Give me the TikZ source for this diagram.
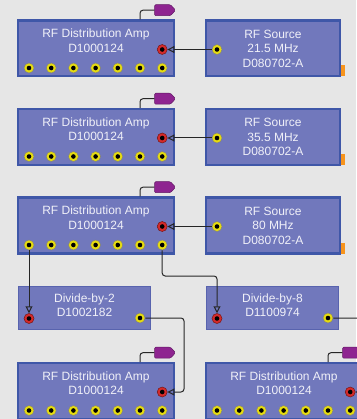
\documentclass[tikz,border=0pt]{standalone}
\usepackage{fontspec}
\setmainfont{Liberation Sans}
\usetikzlibrary{arrows.meta, positioning, shapes.symbols}
\definecolor{bg}{HTML}{E6E6E6}
\definecolor{boxfill}{HTML}{7178BC}
\definecolor{boxedge}{HTML}{3F57A8}
\definecolor{divedge}{HTML}{5863AE}
\definecolor{txt}{HTML}{F0F0F8}
\definecolor{jy}{HTML}{E6DC10}
\definecolor{jr}{HTML}{D42A2A}
\definecolor{tagc}{HTML}{8E2490}
\definecolor{port}{HTML}{F7941D}
\tikzset{
  ampbox/.style={draw=boxedge, fill=boxfill, line width=2.4pt, minimum width=155.6pt, minimum height=55.6pt, inner sep=0pt},
  divbox/.style={draw=divedge, fill=boxfill, line width=1pt, minimum width=132pt, minimum height=43pt, inner sep=0pt},
  tx/.style={text=txt, font=\fontsize{12}{14.5}\selectfont, align=center, inner sep=0pt},
  jack/.style={circle, inner sep=0pt, minimum size=10pt, fill=jy, draw=black!50, line width=0.5pt,
    path picture={\fill[black] (path picture bounding box.center) circle (2.3pt);}},
  rjack/.style={jack, fill=jr, draw=jr!55!black},
  tag/.style={signal, signal to=east, signal pointer angle=95, fill=tagc, draw=tagc!70!black, line width=0.5pt,
    minimum width=21pt, minimum height=11pt, inner sep=0pt, rounded corners=1.2pt},
  portbox/.style={fill=port, minimum width=4pt, minimum height=11pt, inner sep=0pt},
  w/.style={draw=black!85, line width=1pt, rounded corners=3pt},
  a/.style={w, -{Triangle[open, length=7pt, width=7pt]}},
}
% amplifier: name, left, top
\newcommand{\distamp}[3]{%
  \node[ampbox] (#1) at (#2+79, #3+29) {};
  \node[tx] (#1t) at (#2+79, #3+21) {RF Distribution Amp\\D1000124};
  \foreach \i in {1,...,7}
    \node[jack] (#1j\i) at (#2+12+22.2*\i-22.2, #3+48.5) {};
  \node[rjack] (#1r) at (#2+145.2, #3+30) {};
  \node[tag] (#1g) at (#2+145.5, #3-9.3) {};
  \draw[w] (#1j6 |- #1.north) |- (#1g.west);
}
% source: name, top, frequency
\newcommand{\rfsource}[3]{%
  \node[ampbox, tx, minimum width=133.6pt] (#1) at (273, #2+29) {RF Source\\#3 MHz\\D080702-A};
  \node[jack] (#1j) at (217, #2+30) {};
  \node[portbox] (#1p) at (343, #2+51.5) {};
}

\begin{document}
\begin{tikzpicture}[x=1pt, y=-1pt]
\useasboundingbox (0,0) rectangle (356,419);
\fill[bg] (0,0) rectangle (356,419);

% sources and first amplifiers
\distamp{a1}{17}{19.5}
\rfsource{s1}{19.5}{21.5}
\distamp{a2}{17}{108}
\rfsource{s2}{108}{35.5}
\distamp{a3}{17}{196.5}
\rfsource{s3}{196.5}{80}

% dividers
\node[divbox] (d2) at (84.5, 308) {};
\node[tx] (d2t) at (84.5, 305) {Divide-by-2\\D1002182};
\node[rjack] (d2r) at (29, 318.5) {};
\node[jack] (d2o) at (140, 318) {};
\node[divbox] (d8) at (272.5, 308) {};
\node[tx] (d8t) at (272.5, 305) {Divide-by-8\\D1100974};
\node[rjack] (d8r) at (217, 318.5) {};
\node[jack] (d8o) at (328, 318) {};

% second amplifiers
\distamp{a5}{17}{362}
\distamp{a6}{205}{362}

% cables
\draw[a] (s1j) -- (a1r);
\draw[a] (s2j) -- (a2r);
\draw[a] (s3j) -- (a3r);
\draw[a] (a3j1) -- (d2r);
\draw[a] (a3j7) -- ++(0,31) -| (d8r);
\draw[a] (d2o) -- ++(44,0) |- (a5r);
\draw[a] (d8o) -- ++(40,0) |- (a6r);
\end{tikzpicture}
\end{document}
